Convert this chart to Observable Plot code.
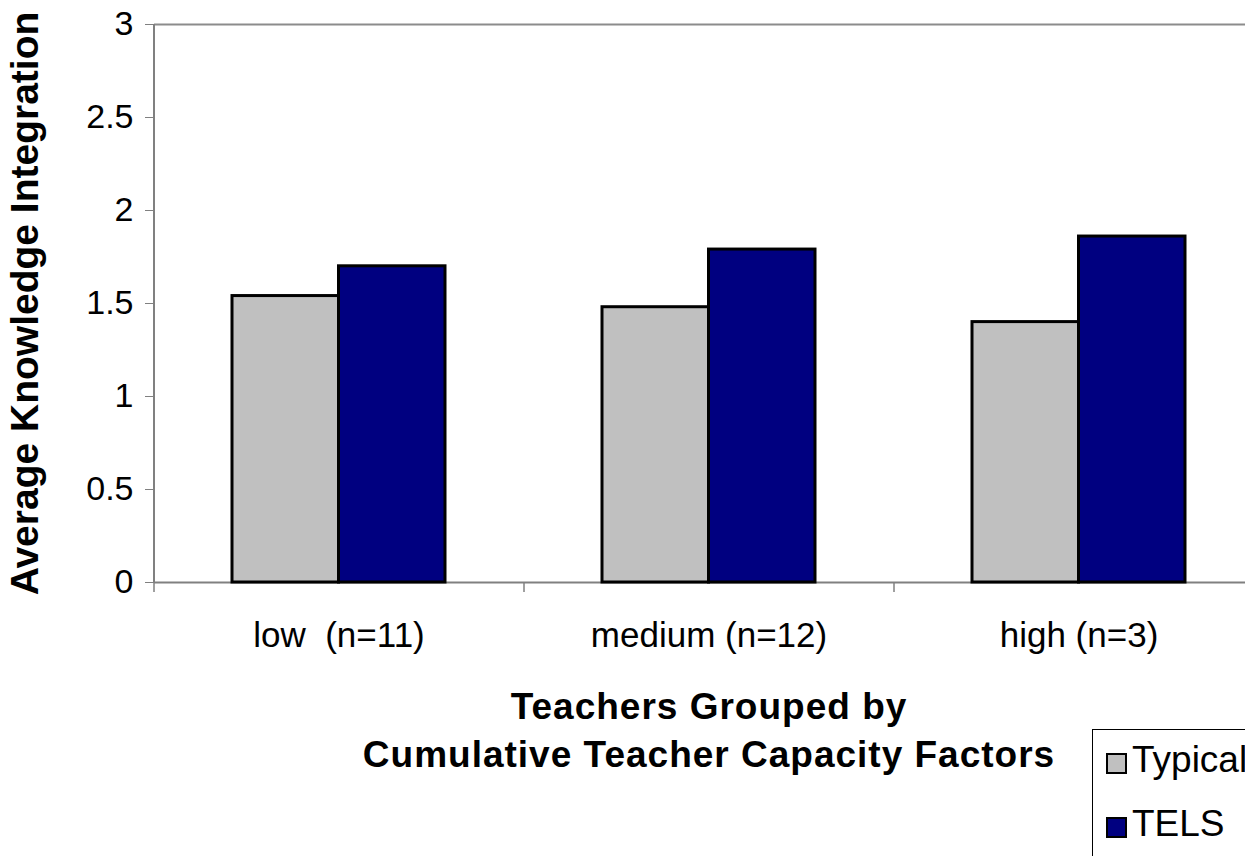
<!DOCTYPE html>
<html>
<head>
<meta charset="utf-8">
<script src="https://cdn.jsdelivr.net/npm/d3@7"></script>
<script src="https://cdn.jsdelivr.net/npm/@observablehq/plot@0.6"></script>
<style>
  html, body { margin: 0; padding: 0; background: #fff; overflow: hidden; width: 1245px; height: 856px; }
  #wrap { position: relative; width: 1245px; height: 856px; overflow: hidden; font-family: "Liberation Sans", Arial, sans-serif; }
  #chart svg text { white-space: pre; }
  .xt { position: absolute; left: 154px; width: 1110px; text-align: center; font-weight: bold; font-size: 37px; line-height: 37px; letter-spacing: 1px; color: #000; white-space: nowrap; }
  #legend { position: absolute; left: 1092px; top: 729px; width: 220px; height: 200px; border: 1.5px solid #000; background: #fff; box-sizing: border-box; }
  .sw { position: absolute; left: 12.5px; width: 17px; height: 17px; border: 2px solid #000; }
  .lt { position: absolute; left: 39px; font-size: 37px; line-height: 37px; white-space: nowrap; color: #000; }
</style>
</head>
<body>
<div id="wrap">
  <div id="chart"></div>
</div>
<script>
const categories = ["low  (n=11)", "medium (n=12)", "high (n=3)"];
const seriesNames = ["Typical", "TELS"];
const typicalValues = [1.54, 1.48, 1.40];
const telsValues = [1.70, 1.79, 1.86];
const seriesColors = ["#C0C0C0", "#000080"];
const yTicks = [0, 0.5, 1, 1.5, 2, 2.5, 3];
const yTitle = "Average Knowledge Integration";
const xTitleLines = ["Teachers Grouped by", "Cumulative Teacher Capacity Factors"];

const typicalRows = categories.map((c, i) => ({category: c, value: typicalValues[i]}));
const telsRows = categories.map((c, i) => ({category: c, value: telsValues[i]}));

const chart = Plot.plot({
  width: 1245,
  height: 856,
  marginTop: 24,
  marginBottom: 274,
  marginLeft: 154,
  marginRight: 0,
  style: {fontFamily: "'Liberation Sans', Arial, sans-serif", background: "white", color: "#000"},
  x: {domain: categories, range: [154, 1264], paddingInner: 0.424, paddingOuter: 0.212, axis: null},
  y: {domain: [0, 3], axis: null},
  marks: [
    Plot.ruleY([3], {stroke: "#8c8c8c", strokeWidth: 2}),
    Plot.ruleY([0], {stroke: "#808080", strokeWidth: 2}),
    Plot.ruleX(categories.slice(0, 1), {x: d => d, dx: -185, y1: 0, y2: 3, stroke: "#808080", strokeWidth: 2}),
    Plot.ruleX(categories, {x: d => d, dx: -185, y1: 0, y2: 0, insetBottom: -10, stroke: "#808080", strokeWidth: 1.5}),
    Plot.barY(typicalRows, {x: "category", y: "value", fill: seriesColors[0], stroke: "#000", strokeWidth: 3, insetRight: 106.5}),
    Plot.barY(telsRows, {x: "category", y: "value", fill: seriesColors[1], stroke: "#000", strokeWidth: 3, insetLeft: 106.5}),
    Plot.axisY({ticks: yTicks, tickSize: 9, tickPadding: 12, fontSize: 34, tickFormat: d => String(d), label: null, stroke: "#808080", fill: "#000"}),
    Plot.axisX({tickSize: 0, tickPadding: 40, fontSize: 35, label: null, fill: "#000"}),
    Plot.text([yTitle], {text: d => d, frameAnchor: "left", textAnchor: "middle", lineAnchor: "middle", dx: -129, rotate: -90, fontSize: 39, fontWeight: "bold", fill: "#000"})
  ]
});
const wrap = document.getElementById("wrap");
document.getElementById("chart").appendChild(chart);

// x-axis title (two lines), below the plot
const titleTops = [687.7, 735.7];
xTitleLines.forEach((t, i) => {
  const d = document.createElement("div");
  d.className = "xt";
  d.style.top = titleTops[i] + "px";
  d.textContent = t;
  wrap.appendChild(d);
});

// legend
const legend = document.createElement("div");
legend.id = "legend";
seriesNames.forEach((name, i) => {
  const sw = document.createElement("div");
  sw.className = "sw";
  sw.style.top = (22.5 + i * 64) + "px";
  sw.style.background = seriesColors[i];
  legend.appendChild(sw);
  const lt = document.createElement("div");
  lt.className = "lt";
  lt.style.top = (11.2 + i * 64) + "px";
  lt.textContent = name;
  legend.appendChild(lt);
});
wrap.appendChild(legend);
</script>
</body>
</html>
